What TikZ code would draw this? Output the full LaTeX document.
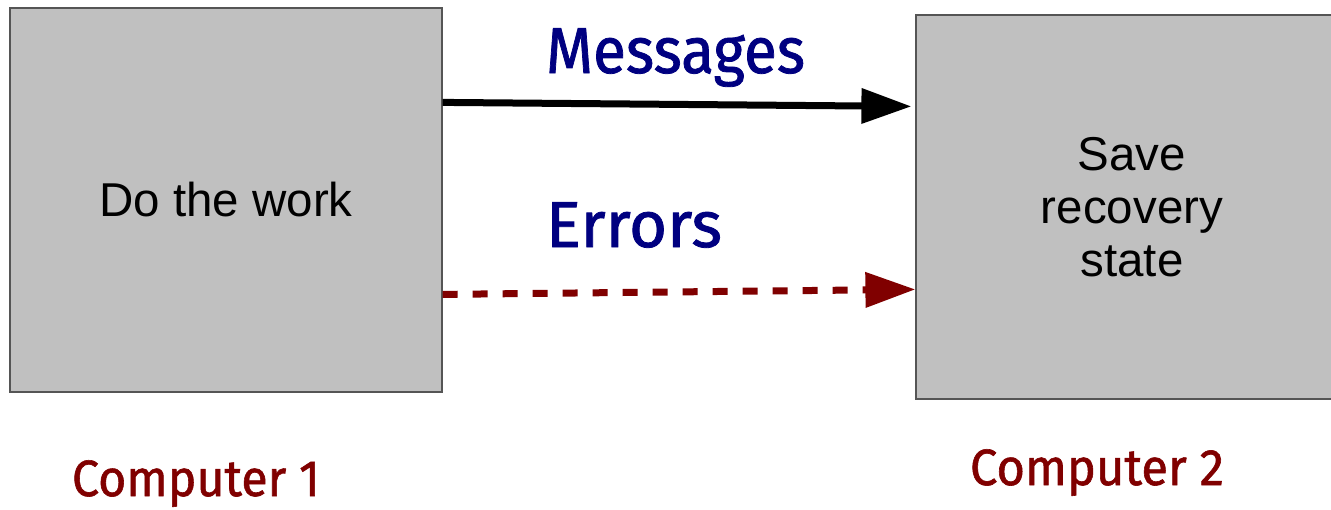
\documentclass[tikz,border=0pt]{standalone}
\usepackage{fontspec}
\usepackage{graphicx}
\setmainfont{Liberation Sans}
\newfontfamily\handfont[FakeBold=1.2]{Fira Sans}
\usetikzlibrary{arrows.meta}
\definecolor{boxgray}{HTML}{C0C0C0}
\definecolor{edgegray}{HTML}{555555}
\definecolor{navyblue}{HTML}{000080}
\definecolor{darkred}{HTML}{800000}
% set a label to a given width while keeping its natural height
\newcommand\fitwidth[2]{\resizebox{#1}{\height}{#2}}
\tikzset{
  machine/.style={draw=edgegray, line width=1.2pt, fill=boxgray,
    minimum width=432pt, minimum height=384pt, inner sep=0pt,
    align=center, font=\fontsize{47.5}{53}\selectfont},
  flowlabel/.style={anchor=base, text=navyblue, inner sep=0pt,
    font=\handfont\fontsize{65}{65}\selectfont},
  hostlabel/.style={anchor=base, text=darkred, inner sep=0pt,
    font=\handfont\fontsize{51}{51}\selectfont},
  msgarrow/.style={line width=7pt, black,
    -{Triangle[length=50pt,width=34pt]}},
  errarrow/.style={line width=7pt, darkred, dash pattern=on 15pt off 15pt,
    -{Triangle[length=50pt,width=34pt]}},
}
\begin{document}
\begin{tikzpicture}[x=1pt,y=-1pt]
  \useasboundingbox (0,0) rectangle (1331,509);
  \clip (0,0) rectangle (1331,509);

  % the two computers
  \node[machine] (c1) at (226,200) {Do the work};
  \node[machine] (c2) at (1132,207) {Save\\recovery\\state};

  % connectors between them
  \coordinate (mstart) at ([yshift=-95pt]c1.north east);
  \coordinate (mend)   at ([yshift=-92pt]c2.north west);
  \coordinate (estart) at ([yshift=-287pt]c1.north east);
  \coordinate (eend)   at ([yshift=-275pt]c2.north west);
  \draw[msgarrow] (mstart) -- ([xshift=-4pt]mend);
  \draw[errarrow] (estart) -- (eend);

  % labels
  \node[flowlabel] (lmsg) at (675.5,73) {\fitwidth{259pt}{Messages}};
  \node[flowlabel] (lerr) at (634,247) {\fitwidth{176pt}{Errors}};
  \node[hostlabel] (lc1) at (196,496) {\fitwidth{248pt}{Computer 1}};
  \node[hostlabel] (lc2) at (1097,485) {\fitwidth{254pt}{Computer 2}};
\end{tikzpicture}
\end{document}
